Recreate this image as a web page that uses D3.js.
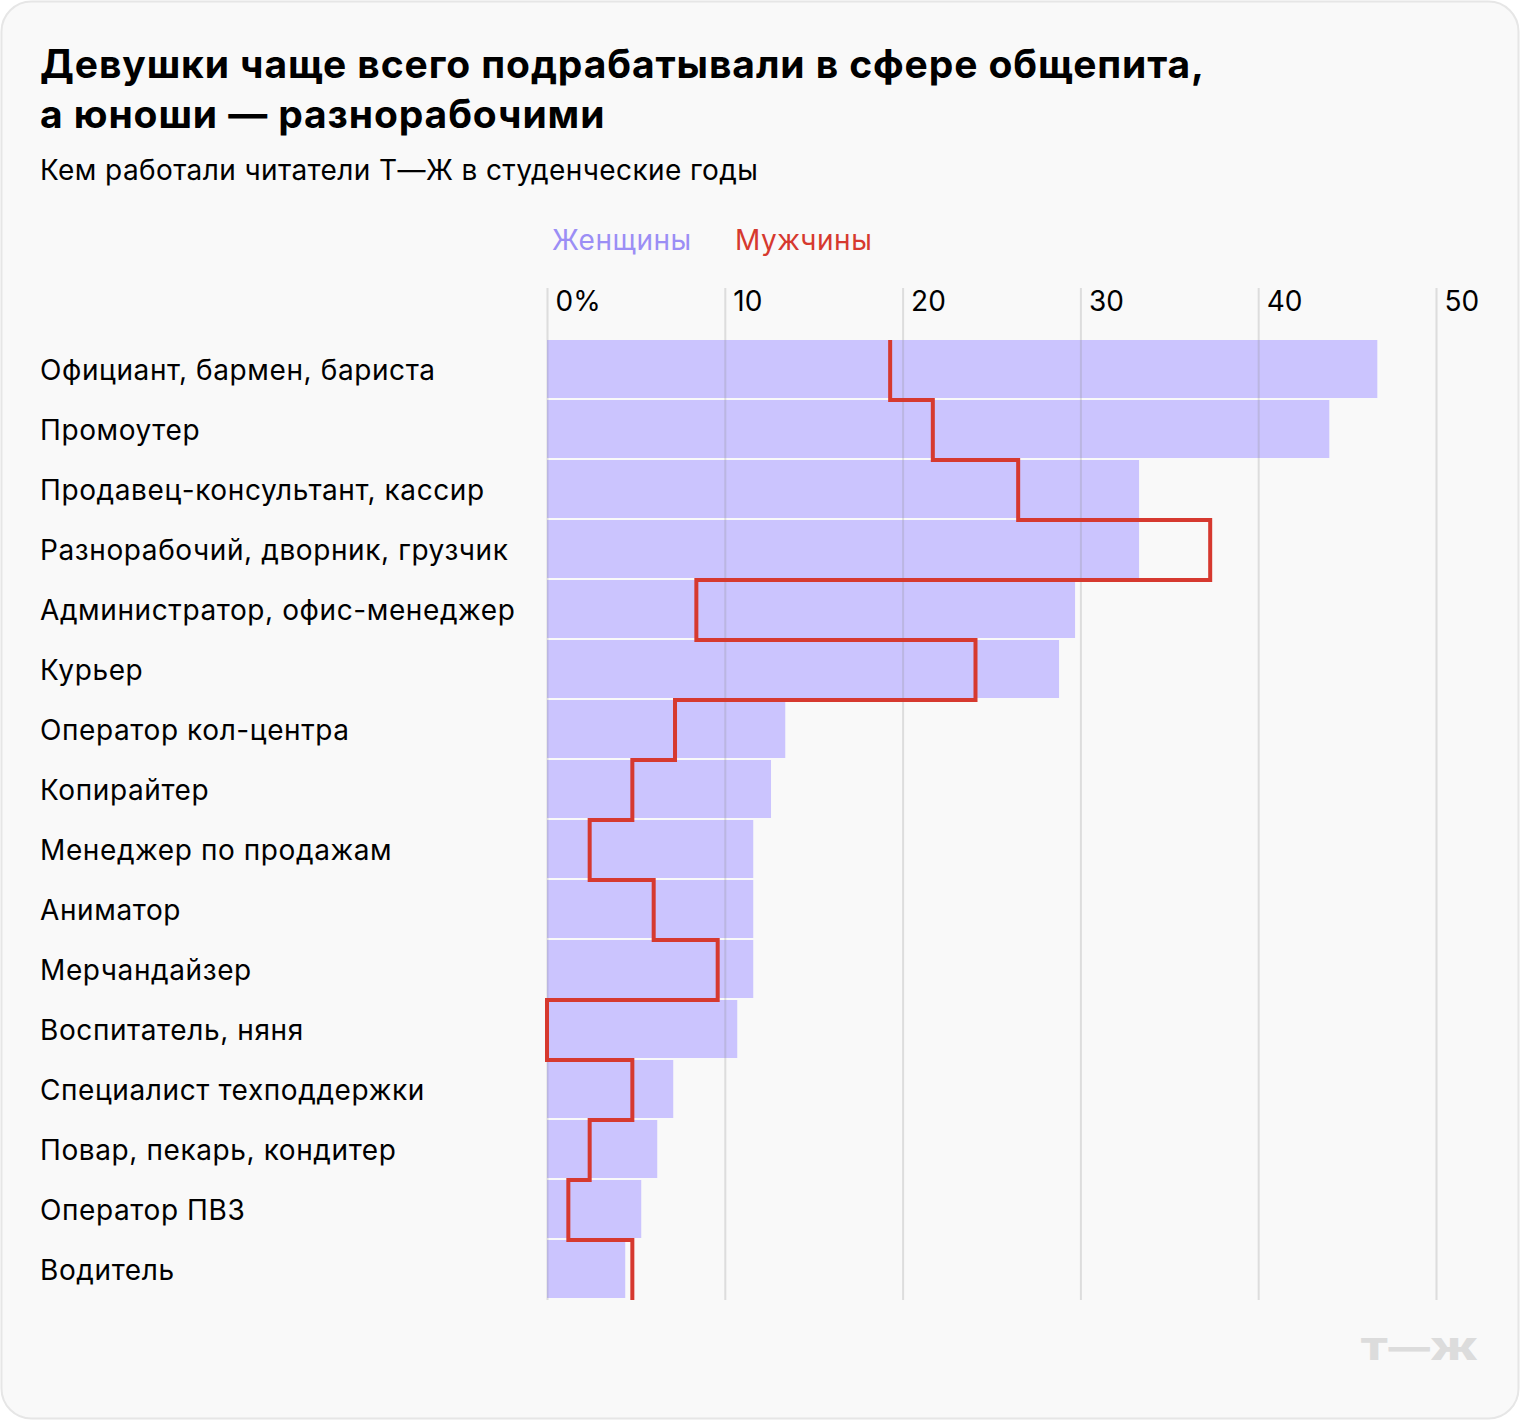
<!DOCTYPE html>
<html><head><meta charset="utf-8">
<script src="https://cdn.jsdelivr.net/npm/d3@7"></script>
<style>
html,body{margin:0;padding:0;background:#fff;}
svg{display:block;}
text{font-family:Inter,Roboto,"Noto Sans",sans-serif;}
</style></head>
<body>
<svg id="c" width="1520" height="1420"></svg>
<script>
const categories = ["Официант, бармен, бариста","Промоутер","Продавец-консультант, кассир","Разнорабочий, дворник, грузчик","Администратор, офис-менеджер","Курьер","Оператор кол-центра","Копирайтер","Менеджер по продажам","Аниматор","Мерчандайзер","Воспитатель, няня","Специалист техподдержки","Повар, пекарь, кондитер","Оператор ПВЗ","Водитель"];
const women = [46.7,44.0,33.3,33.3,29.7,28.8,13.4,12.6,11.6,11.6,11.6,10.7,7.1,6.2,5.3,4.4];
const men = [19.3,21.7,26.5,37.3,8.4,24.1,7.2,4.8,2.4,6.0,9.6,0,4.8,2.4,1.2,4.8];
const ticks = [0,10,20,30,40,50];
const tickLabels = ["0%","10","20","30","40","50"];

const svg = d3.select("#c");
svg.append("rect").attr("x",1.5).attr("y",1.5).attr("width",1517).attr("height",1417).attr("rx",30)
  .attr("fill","#f9f9f9").attr("stroke","#e6e6e6").attr("stroke-width",2);

svg.append("text").attr("x",40).attr("y",78).attr("font-size",39).attr("font-weight",700).attr("letter-spacing",0.9).attr("fill","#000")
  .text("Девушки чаще всего подрабатывали в сфере общепита,");
svg.append("text").attr("x",40).attr("y",128).attr("font-size",39).attr("font-weight",700).attr("letter-spacing",0.9).attr("fill","#000")
  .text("а юноши — разнорабочими");
svg.append("text").attr("x",40).attr("y",180).attr("font-size",28).attr("letter-spacing",0.4).attr("fill","#000")
  .text("Кем работали читатели Т—Ж в студенческие годы");

svg.append("text").attr("x",552).attr("y",250).attr("font-size",28).attr("letter-spacing",0.5).attr("fill","#9b8ef5").text("Женщины");
svg.append("text").attr("x",735).attr("y",250).attr("font-size",28).attr("letter-spacing",0.5).attr("fill","#d6392f").text("Мужчины");

const x = d3.scaleLinear().domain([0,50]).range([547,1436]);
const y = d3.scaleBand().domain(categories).range([340,1300]).padding(0);

const g = svg.append("g");
g.selectAll("rect.bar").data(categories).join("rect").attr("class","bar")
  .attr("x",x(0)).attr("y",d=>y(d))
  .attr("width",(d,i)=>x(women[i])-x(0)).attr("height",y.bandwidth()-2)
  .attr("fill","#cbc4fe");

// gridlines
const axis = d3.axisTop(x).tickValues(ticks).tickFormat((d,i)=>tickLabels[i]).tickSize(0);
const ga = svg.append("g").attr("transform","translate(0,288)").call(axis);
ga.select(".domain").remove();
ga.selectAll(".tick line").attr("y1",0).attr("y2",1300-288).attr("stroke","#8c8c8c").attr("stroke-opacity",0.25).attr("stroke-width",2);
ga.selectAll(".tick text").attr("x",8).attr("y",23).attr("dy",0).attr("text-anchor","start")
  .attr("font-size",28).attr("fill","#000").attr("font-family","Inter,sans-serif");

// labels
svg.selectAll("text.cat").data(categories).join("text").attr("class","cat")
  .attr("x",40).attr("y",d=>y(d)+y.bandwidth()/2+10).attr("font-size",28).attr("letter-spacing",0.6).attr("fill","#000").text(d=>d);

// step line for men
const pts = [];
categories.forEach((c,i)=>{ pts.push([x(men[i]), y(c)]); pts.push([x(men[i]), y(c)+y.bandwidth()]); });
svg.append("path").attr("d",d3.line()(pts)).attr("fill","none").attr("stroke","#d6392f").attr("stroke-width",4).attr("stroke-linejoin","miter");

// logo
svg.append("text").attr("x",1360).attr("y",1360).attr("font-size",30).attr("font-weight",900)
  .attr("fill","#dcdcdc").attr("font-family","'DejaVu Sans',sans-serif")
  .attr("textLength",118).attr("lengthAdjust","spacingAndGlyphs").text("Т—Ж");
</script>
</body></html>
